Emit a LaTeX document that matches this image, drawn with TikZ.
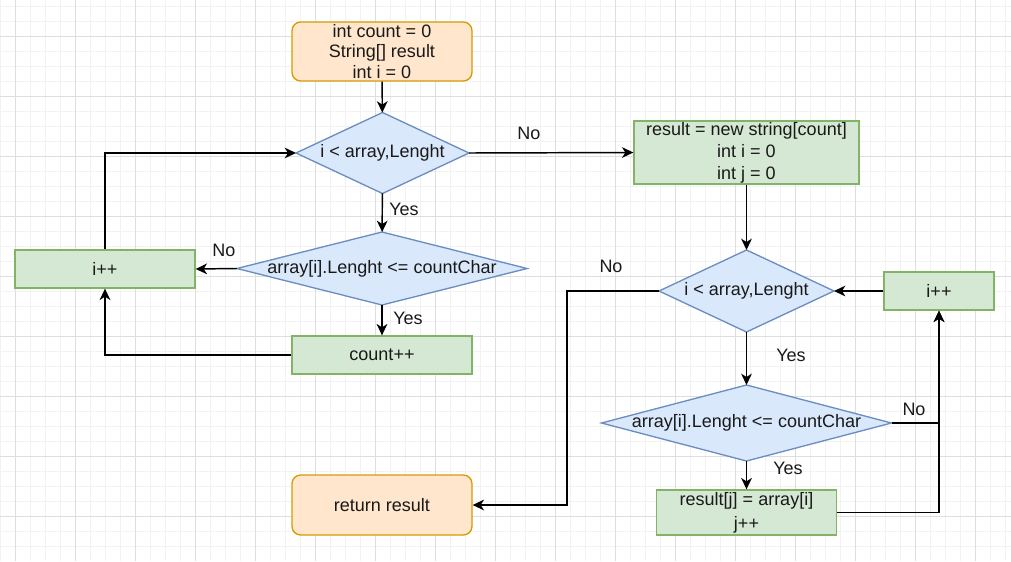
\documentclass[tikz,border=0pt]{standalone}
\usepackage{fontspec}
\setmainfont{Liberation Sans}
\usepackage{tikz}
\usetikzlibrary{arrows.meta,shapes.geometric}

\definecolor{orfill}{HTML}{FFE6CC}
\definecolor{ordraw}{HTML}{D79B00}
\definecolor{blfill}{HTML}{DAE8FC}
\definecolor{bldraw}{HTML}{6C8EBF}
\definecolor{grfill}{HTML}{D5E8D4}
\definecolor{grdraw}{HTML}{82B366}
\definecolor{gridminor}{HTML}{F2F2F2}
\definecolor{gridmajor}{HTML}{DEDEDE}

\tikzset{
    every node/.style={font=\fontsize{13.5}{16}\selectfont, text=black!90},
    terminal/.style={draw=ordraw, fill=orfill, rounded corners=6.5pt, line width=1pt, align=center, inner sep=0pt},
    decision/.style={diamond, draw=bldraw, fill=blfill, line width=1pt, inner sep=0pt, outer sep=0pt},
    process/.style={draw=grdraw, fill=grfill, line width=1pt, align=center, inner sep=0pt},
    flow/.style={line width=1.1pt, -{Stealth[length=8.5pt,width=8pt,inset=2.5pt]}},
    lbl/.style={inner sep=1pt}
}

\begin{document}
\begin{tikzpicture}[x=0.75pt, y=-0.75pt]
        \useasboundingbox (0,0) rectangle (1011,561);

        % grid
        \foreach \x in {0,15,...,1010} \draw[gridminor, line width=0.75pt] (\x,0) -- (\x,561);
        \foreach \y in {6,21,...,560} \draw[gridminor, line width=0.75pt] (0,\y) -- (1011,\y);
        \foreach \x in {15,75,...,1010} \draw[gridmajor, line width=0.75pt] (\x,0) -- (\x,561);
        \foreach \y in {36,96,...,560} \draw[gridmajor, line width=0.75pt] (0,\y) -- (1011,\y);

        \coordinate (xs) at (382, 51.5);
        \coordinate (xd1) at (382.5, 153);
        \coordinate (xd2) at (382, 268.5);
        \coordinate (xi1) at (105, 269);
        \coordinate (xc) at (382, 355);
        \coordinate (xr) at (382, 505);
        \coordinate (xn) at (746.5, 152.5);
        \coordinate (xd3) at (746.5, 291);
        \coordinate (xi2) at (939, 291);
        \coordinate (xd4) at (746.5, 423);
        \coordinate (xa) at (746.5, 512.5);

        \node[terminal, minimum width=135pt, minimum height=44.25pt] (start) at (xs) {int count = 0\\[-0.3pt]String[] result\\[-0.3pt]int i = 0};
        \node[decision, minimum width=129.75pt, minimum height=60.75pt] (d1) at (xd1) {\makebox[0pt]{i < array,Lenght}};
        \node[decision, minimum width=217.5pt, minimum height=54.75pt] (d2) at (xd2) {\makebox[0pt]{array[i].Lenght <= countChar}};
        \node[process, minimum width=135pt, minimum height=28.5pt] (inc1) at (xi1) {i++};
        \node[process, minimum width=135pt, minimum height=28.5pt] (cnt) at (xc) {count++};
        \node[terminal, minimum width=135pt, minimum height=45pt] (ret) at (xr) {return result};
        \node[process, minimum width=168.75pt, minimum height=47.25pt] (init) at (xn) {result = new string[count]\\[0.5pt]int i = 0\\[0.5pt]int j = 0};
        \node[decision, minimum width=131.25pt, minimum height=61.5pt] (d3) at (xd3) {\makebox[0pt]{i < array,Lenght}};
        \node[process, minimum width=82.5pt, minimum height=28.5pt] (inc2) at (xi2) {i++};
        \node[decision, minimum width=217.5pt, minimum height=57pt] (d4) at (xd4) {\makebox[0pt]{array[i].Lenght <= countChar}};
        \node[process, minimum width=135pt, minimum height=33.75pt] (asg) at (xa) {result[j] = array[i]\\[2pt]j++};

        \coordinate (bend) at (567, 291);

        \draw[flow] (start) -- (d1);
        \draw[flow] (d1) -- (d2);
        \draw[flow] (d2) -- (cnt);
        \draw[flow] (d2.west) -- (inc1.east);
        \draw[flow] (cnt.west) -| (inc1.south);
        \draw[flow] (inc1.north) |- (d1.west);
        \draw[flow] (d1.east) -- (init.west);
        \draw[flow] (init.south) -- (d3.north);
        \draw[flow] (d3.west) -- (bend) |- (ret.east);
        \draw[flow] (d3) -- (d4);
        \draw[flow] (d4) -- (asg);
        \draw[flow] (d4.east) -| (inc2.south);
        \draw[flow] (asg.east) -| (inc2.south);
        \draw[flow] (inc2.west) -- (d3.east);

        \node[lbl] (yes1) at (404, 209) {Yes};
        \node[lbl] (yes2) at (408, 318) {Yes};
        \node[lbl] (no1) at (224, 250) {No};
        \node[lbl] (no2) at (529, 133) {No};
        \node[lbl] (no3) at (611, 266) {No};
        \node[lbl] (yes3) at (791, 355) {Yes};
        \node[lbl] (yes4) at (788, 468) {Yes};
        \node[lbl] (no4) at (914, 409) {No};
    \end{tikzpicture}
\end{document}
